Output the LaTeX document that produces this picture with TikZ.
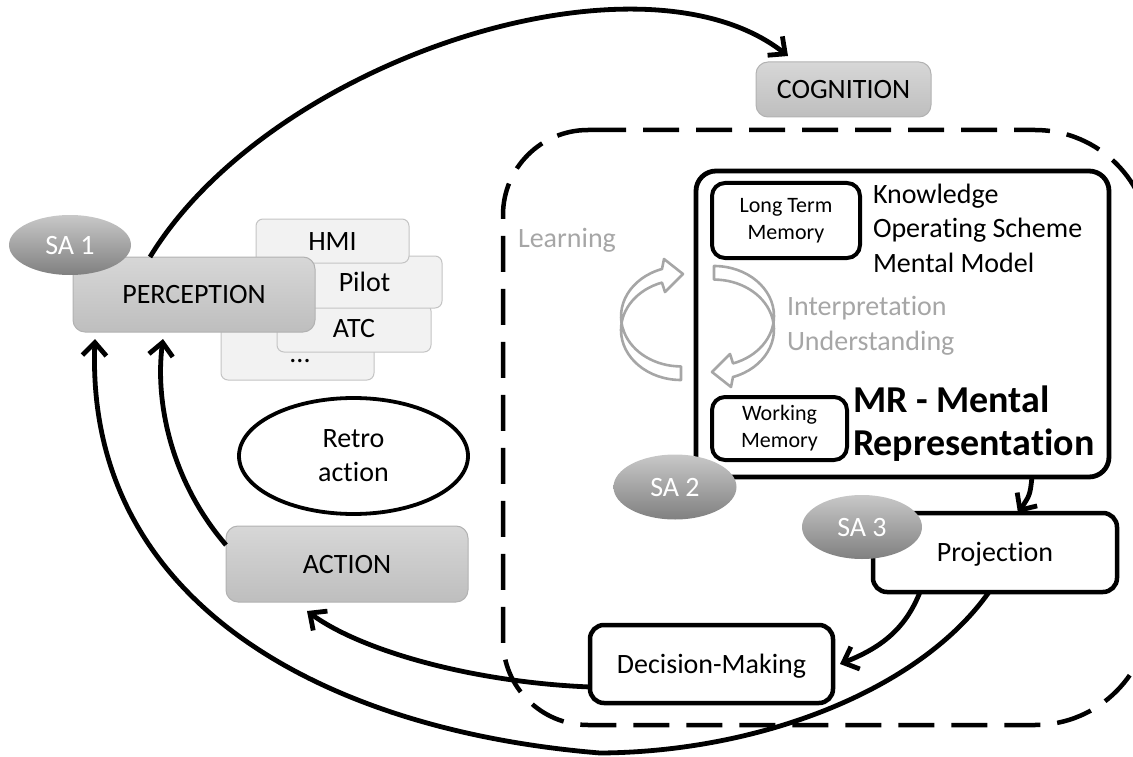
\documentclass[tikz,border=0pt]{standalone}
\usepackage{fontspec}
\setmainfont{Carlito}[Ligatures=NoCommon]
\usetikzlibrary{arrows.meta,shapes.geometric,calc}
\definecolor{boxtop}{RGB}{215,215,215}
\definecolor{boxbot}{RGB}{190,190,190}
\definecolor{boxline}{RGB}{178,178,178}
\definecolor{satop}{RGB}{200,200,200}
\definecolor{sabot}{RGB}{128,128,128}
\definecolor{stackfill}{RGB}{242,242,242}
\definecolor{stackline}{RGB}{196,196,196}
\definecolor{lightgraytext}{RGB}{166,166,166}
\begin{document}
\begin{tikzpicture}[x=1pt,y=-1pt,
  every node/.style={inner sep=0pt,outer sep=0pt},
  graybox/.style={draw=boxline,line width=1pt,rounded corners=12pt,top color=boxtop,bottom color=boxbot,
    font=\fontsize{28}{34}\selectfont,text height=18pt,text depth=0pt},
  sabox/.style={ellipse,top color=satop,bottom color=sabot,draw=none,text=white,
    font=\fontsize{28}{34}\selectfont,text height=18pt,text depth=0pt},
  stackbox/.style={draw=stackline,line width=1pt,fill=stackfill,rounded corners=7pt,
    font=\fontsize{28}{34}\selectfont,text height=18pt,text depth=0pt},
  whitebox/.style={draw=black,line width=4.5pt,fill=white,rounded corners=14pt,
    font=\fontsize{28}{34}\selectfont,text height=18pt,text depth=0pt},
  membox/.style={draw=black,line width=4pt,fill=white,rounded corners=13pt,align=center,
    font=\fontsize{22}{27}\selectfont},
  regionline/.style={line width=4.5pt,dash pattern=on 36pt off 17pt},
  cyclearrow/.style={draw=lightgraytext,line width=2.6pt,line join=round},
  arr/.style={line width=4.8pt,-{Straight Barb[length=13pt,width=24pt]}},
  softtext/.style={text=lightgraytext,font=\fontsize{28}{35}\selectfont,align=left}
]
\useasboundingbox (0,0) rectangle (1133,757);

% dashed cognition region
\draw[regionline] (590,130) -- (1035,130) arc[start angle=270,end angle=360,radius=115]
  -- (1150,610) arc[start angle=0,end angle=90,radius=115]
  -- (588,725) arc[start angle=90,end angle=180,radius=85]
  -- (503,215) arc[start angle=180,end angle=270,radius=85] -- cycle;

% mental representation box
\node[draw=black,line width=4.8pt,rounded corners=20pt,minimum width=413pt,minimum height=306pt] (mr) at (902.5,324) {};
\node[membox,minimum width=148pt,minimum height=75pt] (ltm) at (786,220.5) {Long Term\\Memory};
\node[membox,minimum width=135pt,minimum height=63pt] (wm) at (779.5,428.5) {Working\\Memory};
\node[anchor=base west,align=left,font=\fontsize{28}{34.5}\selectfont] (know) at (873,272) {Knowledge\\Operating Scheme\\Mental Model};
\node[anchor=base west,align=left,font=\fontsize{38}{43}\selectfont\bfseries] (mrtext) at (853,455) {MR - Mental\\Representation};
\node[softtext,anchor=base west] (interp) at (787,350) {Interpretation\\Understanding};
\node[softtext,anchor=base west] (learn) at (518,247) {Learning};

% cycle arrows
\draw[cyclearrow] (681,380) arc[start angle=90,end angle=251.5,x radius=60,y radius=50]
  -- (665,292) -- (683,274) -- (664,259) -- (662,269)
  arc[start angle=251.5,end angle=90,x radius=60,y radius=50] -- cycle;
\draw[cyclearrow,rotate around={180:(697.5,323)}] (681,380) arc[start angle=90,end angle=251.5,x radius=60,y radius=50]
  -- (665,292) -- (683,274) -- (664,259) -- (662,269)
  arc[start angle=251.5,end angle=90,x radius=60,y radius=50] -- cycle;

% projection / decision
\node[whitebox,minimum width=244pt,minimum height=79pt] (proj) at (995,552.5) {Projection};
\node[whitebox,minimum width=243pt,minimum height=78pt] (dec) at (711.5,664) {Decision-Making};
\node[sabox,minimum width=123pt,minimum height=65pt] (sa2) at (675,487) {SA 2};
\node[sabox,minimum width=120pt,minimum height=64pt] (sa3) at (862,527) {SA 3};

% information sources stack
\node[stackbox,minimum width=153pt,minimum height=68pt] (dotsbox) at (297.5,346) {};
\node[anchor=base,font=\fontsize{28}{34}\selectfont] (dotstext) at (300,362) {...};
\node[stackbox,minimum width=154pt,minimum height=48pt] (atc) at (354,328) {ATC};
\node[stackbox,minimum width=155pt,minimum height=52pt] (pilot) at (364.5,282) {Pilot};
\node[stackbox,minimum width=153pt,minimum height=44pt] (hmi) at (332.5,241) {HMI};

% perception, action, cognition
\node[graybox,minimum width=242pt,minimum height=75pt] (perc) at (194,294.5) {PERCEPTION};
\node[sabox,minimum width=122pt,minimum height=60pt] (sa1) at (70,245) {SA 1};
\node[graybox,minimum width=175pt,minimum height=55pt] (cog) at (843.5,89.5) {COGNITION};
\node[graybox,minimum width=242pt,minimum height=76pt] (act) at (347,564) {ACTION};
\node[ellipse,draw=black,line width=3.8pt,fill=white,minimum width=229pt,minimum height=116pt,
  align=center,font=\fontsize{28}{34}\selectfont] (retro) at (353.5,456) {Retro\\action};

% connectors
\draw[arr] ([xshift=-44pt]perc.north) .. controls (270,60) and (640,-60) .. ([xshift=32pt,yshift=6pt]cog.north west);
\draw[arr] ([xshift=129.5pt]mr.south) .. controls (1030,495) .. ([xshift=23pt]proj.north);
\draw[arr] ([xshift=-75pt]proj.south) .. controls (905,630) and (880,648) .. ([xshift=7pt]dec.east);
\draw[arr] ([yshift=-23pt]dec.west) .. controls (470,682) and (360,650) .. ([xshift=-40pt,yshift=-9pt]act.south);
\draw[arr] ([yshift=19pt]act.west) .. controls (170,480) and (155,400) .. ([xshift=-31pt,yshift=-7pt]perc.south);
\draw[arr] ([xshift=-6pt]proj.south) .. controls (920,690) and (760,752) .. (600,753)
  .. controls (320,730) and (85,600) .. ([xshift=-99pt,yshift=-7pt]perc.south);
\end{tikzpicture}
\end{document}
